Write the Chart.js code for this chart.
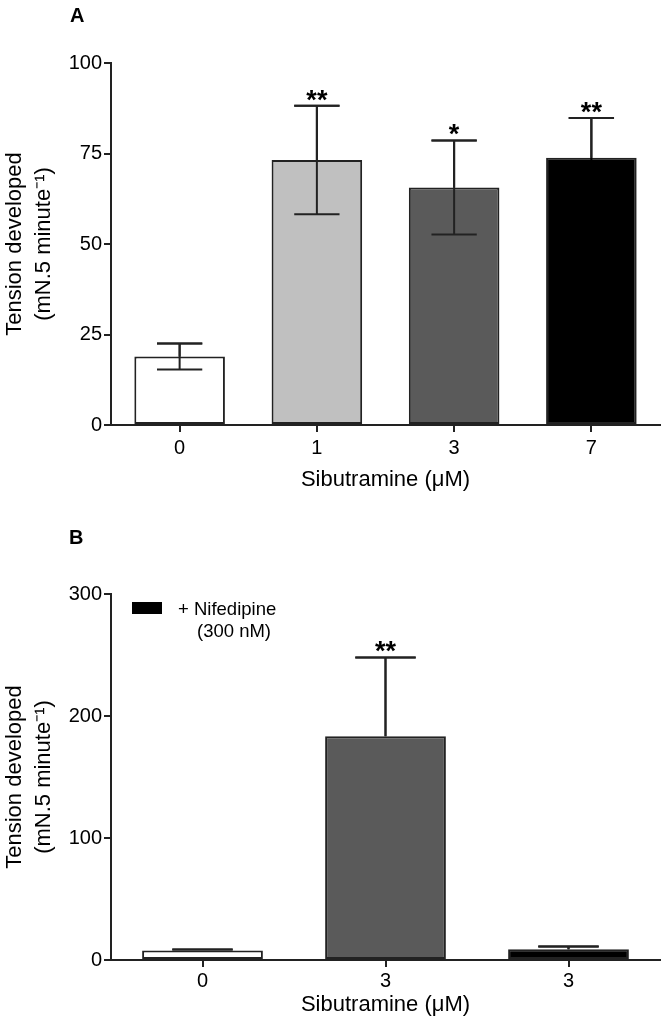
<!DOCTYPE html>
<html><head><meta charset="utf-8">
<script src="https://cdn.jsdelivr.net/npm/chart.js@4.4.0/dist/chart.umd.min.js"></script>
<style>
html,body{margin:0;padding:0;background:#fff;}
#wrap{position:relative;width:662px;height:1033px;overflow:hidden;}
.panel{position:absolute;left:0;width:662px;}
.lab{position:absolute;font:bold 20px "Liberation Sans",Arial,sans-serif;line-height:20px;color:#000;}
</style></head><body>
<div id="wrap">
<div class="panel" style="top:0;height:520px"><canvas id="ca" width="662" height="520"></canvas></div>
<div class="panel" style="top:520px;height:513px"><canvas id="cb" width="662" height="513"></canvas></div>
<div class="lab" style="left:70px;top:5px">A</div>
<div class="lab" style="left:69px;top:527px">B</div>
</div>
<script>
// ---- Panel A data ----
const catsA = ['0', '1', '3', '7'];
const meanA = [18.9, 73.2, 65.6, 73.8];
const semA = [3.6, 15.0, 13.0, 11.0];
const starsA = ['', '**', '*', '**'];
const colorsA = ['#ffffff', '#c0c0c0', '#5a5a5a', '#000000'];
const ticksA = [0, 25, 50, 75, 100];

// ---- Panel B data ----
const catsB = ['0', '3', '3'];
const meanB = [7.8, 183.5, 8.8];
const semB = [0.8, 64.5, 2.2];
const starsB = ['', '**', ''];
const colorsB = ['#ffffff', '#5a5a5a', '#000000'];
const ticksB = [0, 100, 200, 300];
const legendB = ['+ Nifedipine', '(300 nM)'];

const yTitle = ['Tension developed', '(mN.5 minute\u207B\u00B9)'];
const xTitle = 'Sibutramine (\u03BCM)';

const FAM = '"Liberation Sans", Arial, Helvetica, sans-serif';
Chart.defaults.font.family = FAM;
Chart.defaults.color = '#000';

function errPlugin(mean, sem, stars, colors, both) {
  return {
    id: 'errbars',
    afterDatasetsDraw(chart) {
      const ctx = chart.ctx, meta = chart.getDatasetMeta(0), ys = chart.scales.y;
      ctx.save();
      ctx.lineWidth = 2;
      meta.data.forEach((bar, i) => {
        const x = bar.x, half = bar.width / 4;
        const yt = ys.getPixelForValue(mean[i] + sem[i]);
        const yb = ys.getPixelForValue(both ? mean[i] - sem[i] : mean[i]);
        ctx.strokeStyle = colors[i] === '#000000' ? '#000' : '#222';
        ctx.beginPath();
        ctx.moveTo(x, yt); ctx.lineTo(x, yb);
        ctx.moveTo(x - half, yt); ctx.lineTo(x + half, yt);
        if (both) { ctx.moveTo(x - half, yb); ctx.lineTo(x + half, yb); }
        ctx.stroke();
        ctx.strokeStyle = '#222';
        ctx.beginPath();
        const ybar = ys.getPixelForValue(mean[i]);
        ctx.moveTo(x, yt); ctx.lineTo(x, Math.min(ybar, yb));
        ctx.moveTo(x - half, yt); ctx.lineTo(x + half, yt);
        ctx.stroke();
        if (stars[i]) {
          ctx.fillStyle = '#000';
          ctx.font = 'bold 27px ' + FAM;
          ctx.textAlign = 'center';
          ctx.textBaseline = 'alphabetic';
          ctx.fillText(stars[i], x, yt + 3);
        }
      });
      ctx.restore();
    }
  };
}

const legendPlugin = {
  id: 'legendB',
  afterDraw(chart) {
    const ctx = chart.ctx, ca = chart.chartArea;
    ctx.save();
    ctx.fillStyle = '#000';
    ctx.fillRect(ca.left + 21, ca.top + 8, 30, 12);
    ctx.font = '18.5px ' + FAM;
    ctx.textAlign = 'left';
    ctx.textBaseline = 'alphabetic';
    ctx.fillText(legendB[0], ca.left + 67, ca.top + 21);
    ctx.fillText(legendB[1], ca.left + 86, ca.top + 43);
    ctx.restore();
  }
};

function makeChart(id, cats, mean, colors, ticks, topPad, xH, xPadB, tickPad, extraPlugins) {
  return new Chart(document.getElementById(id), {
    type: 'bar',
    data: {
      labels: cats,
      datasets: [{
        data: mean,
        backgroundColor: colors,
        borderColor: '#222',
        borderWidth: 2,
        borderSkipped: false,
        categoryPercentage: 1,
        barPercentage: 0.66
      }]
    },
    options: {
      responsive: false,
      animation: false,
      devicePixelRatio: 1,
      layout: { padding: { left: 0, right: 2, top: topPad, bottom: 0 } },
      plugins: { legend: { display: false }, tooltip: { enabled: false } },
      scales: {
        x: {
          grid: { offset: false, drawOnChartArea: false, tickLength: 7, color: '#222', lineWidth: 2 },
          border: { color: '#222', width: 2 },
          ticks: { font: { size: 20 }, color: '#000', padding: tickPad },
          title: { display: true, text: xTitle, font: { size: 22 }, color: '#000', padding: { top: 0, bottom: xPadB } },
          afterFit: s => { s.height = xH; }
        },
        y: {
          min: ticks[0],
          max: ticks[ticks.length - 1],
          afterBuildTicks: s => { s.ticks = ticks.map(v => ({ value: v })); },
          grid: { drawOnChartArea: false, tickLength: 7, color: '#222', lineWidth: 2 },
          border: { color: '#222', width: 2 },
          ticks: { font: { size: 20 }, color: '#000', padding: 2 },
          title: { display: true, text: yTitle, font: { size: 22, lineHeight: 1.3 }, color: '#000', padding: { top: 1, bottom: 0 } },
          afterFit: s => { s.width = 111; }
        }
      }
    },
    plugins: extraPlugins
  });
}

makeChart('ca', catsA, meanA, colorsA, ticksA, 63, 95, 27, 4, [errPlugin(meanA, semA, starsA, colorsA, true)]);
makeChart('cb', catsB, meanB, colorsB, ticksB, 74, 73, 15, 2, [errPlugin(meanB, semB, starsB, colorsB, false), legendPlugin]);
</script>
</body></html>
